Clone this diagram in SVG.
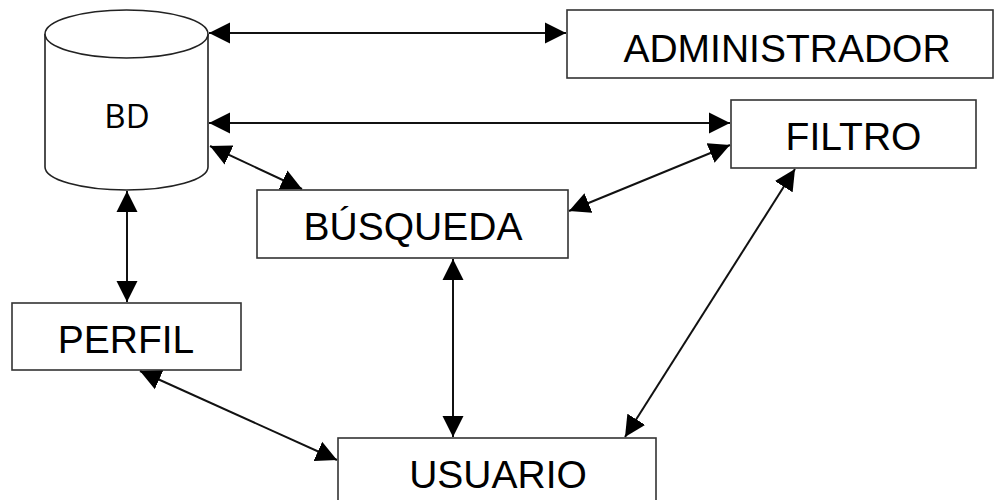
<svg xmlns="http://www.w3.org/2000/svg" width="994" height="500" viewBox="0 0 994 500">
  <style>
    .box { fill: #ffffff; stroke: #333333; stroke-width: 1.6; }
    .db { fill: #ffffff; stroke: #222222; stroke-width: 1.6; }
    .lbl { font-family: "Liberation Sans", Arial, sans-serif; font-size: 39px; fill: #000000; text-anchor: middle; }
    .dblbl { font-family: "Open Sans", "Liberation Sans", sans-serif; font-size: 33px; fill: #000000; text-anchor: middle; }
    .link { fill: none; stroke: #111111; stroke-width: 2; marker-start: url(#arrow); marker-end: url(#arrow); }
  </style>
  <defs>
    <marker id="arrow" markerUnits="userSpaceOnUse" markerWidth="22" markerHeight="22" refX="21" refY="10.5" orient="auto-start-reverse" viewBox="0 0 22 21">
      <path d="M0,0 L21,10.5 L0,21 Z" fill="#000000"/>
    </marker>
  </defs>
  <rect width="994" height="500" fill="#ffffff"/>

  <!-- connectors -->
  <g id="connectors">
    <line class="link" x1="209" y1="33" x2="566" y2="33"/>
    <line class="link" x1="209" y1="123" x2="730" y2="123"/>
    <line class="link" x1="210" y1="146" x2="302" y2="189"/>
    <line class="link" x1="730" y1="145" x2="569" y2="211"/>
    <line class="link" x1="127" y1="191" x2="127" y2="302"/>
    <line class="link" x1="453" y1="259" x2="453" y2="437"/>
    <line class="link" x1="795" y1="169" x2="625" y2="437"/>
    <line class="link" x1="140" y1="371" x2="337" y2="460"/>
  </g>

  <!-- database cylinder -->
  <g id="bd">
    <path class="db" d="M45,34 L45,167 A81.5,23 0 0 0 208,167 L208,34"/>
    <ellipse class="db" cx="126.5" cy="34" rx="81.5" ry="24"/>
    <text class="dblbl" x="127" y="128">BD</text>
  </g>

  <g id="administrador">
    <rect class="box" x="567" y="10" width="426" height="68"/>
    <text class="lbl" x="787" y="62">ADMINISTRADOR</text>
  </g>

  <g id="filtro">
    <rect class="box" x="731" y="100" width="245" height="68"/>
    <text class="lbl" x="853.5" y="150">FILTRO</text>
  </g>

  <g id="busqueda">
    <rect class="box" x="257" y="190" width="311" height="68"/>
    <text class="lbl" x="413" y="240">BÚSQUEDA</text>
  </g>

  <g id="perfil">
    <rect class="box" x="12" y="303" width="229" height="67"/>
    <text class="lbl" x="126" y="353">PERFIL</text>
  </g>

  <g id="usuario">
    <rect class="box" x="338" y="438" width="318" height="70"/>
    <text class="lbl" x="498" y="488">USUARIO</text>
  </g>
</svg>
